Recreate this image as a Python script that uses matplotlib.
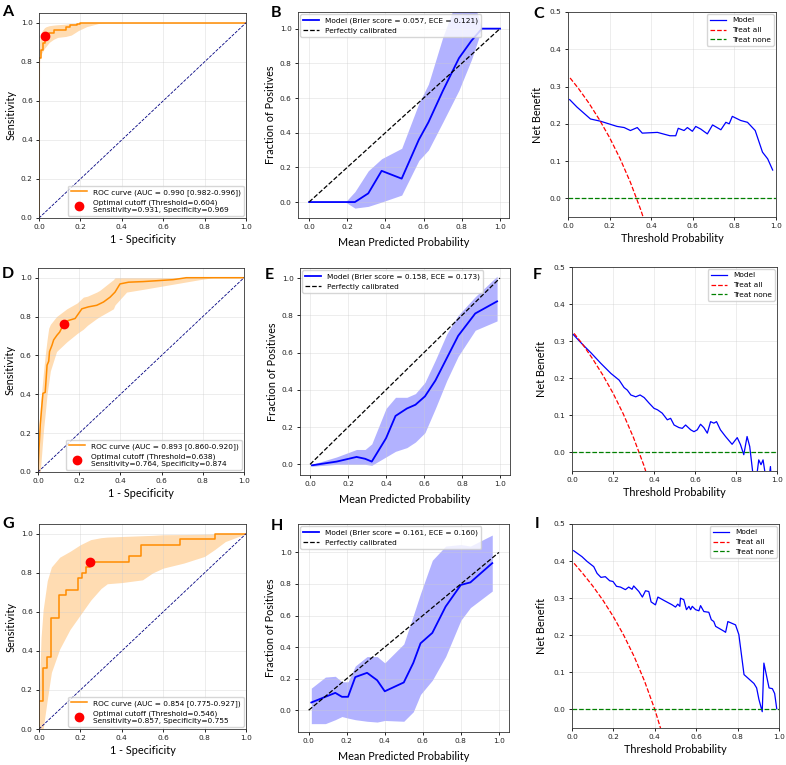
import matplotlib
matplotlib.use("Agg")
import matplotlib.pyplot as plt

W, H = 786, 765

# ---------------- ROC data ----------------
roc_a_fpr = [0, 0, 0.01, 0.01, 0.02, 0.02, 0.031, 0.031, 0.05, 0.05, 0.073, 0.073,
             0.13, 0.13, 0.15, 0.15, 0.185, 0.185, 0.197, 0.197, 0.253, 0.253, 1.0]
roc_a_tpr = [0, 0.82, 0.82, 0.86, 0.86, 0.895, 0.895, 0.931, 0.931, 0.946, 0.946, 0.962,
             0.962, 0.976, 0.976, 0.988, 0.988, 0.993, 0.993, 0.997, 0.997, 1.0, 1.0]
band_a_x = [0, 0.003, 0.006, 0.016, 0.027, 0.035, 0.05, 0.07, 0.09, 0.13, 0.156, 0.19, 0.2, 0.23, 0.29, 0.32, 1.0]
band_a_lo = [0.0, 0.80, 0.83, 0.85, 0.87, 0.88, 0.90, 0.915, 0.925, 0.93, 0.937, 0.96, 0.965, 0.98, 0.997, 1.0, 1.0]
band_a_hi = [0.86, 0.90, 0.93, 0.96, 0.975, 0.98, 0.985, 0.988, 0.99, 0.993, 0.996, 0.999, 1.0, 1.0, 1.0, 1.0, 1.0]

roc_d_fpr = [0, 0.005, 0.011, 0.019, 0.024, 0.035, 0.044, 0.052, 0.056, 0.068, 0.076, 0.092,
             0.105, 0.126, 0.148, 0.18, 0.213, 0.245, 0.285, 0.318, 0.35, 0.374, 0.398,
             0.44, 0.51, 0.656, 0.72, 1.0]
roc_d_tpr = [0, 0.123, 0.243, 0.345, 0.405, 0.41, 0.55, 0.57, 0.62, 0.653, 0.68, 0.704,
             0.72, 0.764, 0.78, 0.79, 0.84, 0.85, 0.858, 0.875, 0.90, 0.926, 0.968,
             0.977, 0.98, 0.99, 1.0, 1.0]
band_d_x = [0, 0.008, 0.011, 0.027, 0.035, 0.044, 0.052, 0.06, 0.09, 0.14, 0.19, 0.22, 0.24, 0.285,
            0.30, 0.35, 0.366, 0.374, 0.43, 0.51, 0.62, 0.785, 0.85, 1.0]
band_d_lo = [0, 0.0, 0.0, 0.22, 0.30, 0.40, 0.46, 0.52, 0.62, 0.67, 0.713, 0.735, 0.755, 0.79,
             0.80, 0.83, 0.84, 0.86, 0.926, 0.94, 0.96, 0.99, 1.0, 1.0]
band_d_hi = [0.10, 0.24, 0.33, 0.52, 0.60, 0.68, 0.74, 0.76, 0.80, 0.84, 0.87, 0.90, 0.905, 0.926,
             0.935, 0.977, 0.99, 1.0, 1.0, 1.0, 1.0, 1.0, 1.0, 1.0]

roc_g_fpr = [0, 0, 0.02, 0.02, 0.04, 0.04, 0.056, 0.056, 0.095, 0.095, 0.13, 0.13, 0.187, 0.187,
             0.206, 0.206, 0.226, 0.226, 0.245, 0.245, 0.435, 0.435, 0.492, 0.492, 0.68, 0.68,
             0.85, 0.85, 1.0]
roc_g_tpr = [0, 0.143, 0.143, 0.314, 0.314, 0.371, 0.371, 0.571, 0.571, 0.686, 0.686, 0.714,
             0.714, 0.771, 0.771, 0.8, 0.8, 0.829, 0.829, 0.857, 0.857, 0.886, 0.886, 0.943,
             0.943, 0.971, 0.971, 1.0, 1.0]
band_g_x = [0, 0.01, 0.02, 0.04, 0.06, 0.1, 0.15, 0.2, 0.25, 0.3, 0.33, 0.4, 0.5, 0.55, 0.6, 0.7,
            0.8, 0.85, 0.9, 1.0]
band_g_lo = [0, 0, 0, 0.15, 0.29, 0.41, 0.51, 0.585, 0.66, 0.72, 0.744, 0.75, 0.764, 0.80, 0.824,
             0.85, 0.884, 0.92, 0.96, 1.0]
band_g_hi = [0.14, 0.47, 0.61, 0.76, 0.83, 0.88, 0.91, 0.944, 0.97, 0.98, 0.983, 0.986, 0.99,
             0.992, 0.995, 0.996, 0.998, 0.999, 1.0, 1.0]

cut_a = (0.031, 0.931)
cut_d = (0.126, 0.764)
cut_g = (0.245, 0.857)

# ---------------- calibration data ----------------
cal_b_x = [0.0, 0.19, 0.24, 0.31, 0.38, 0.485, 0.575, 0.625, 0.70, 0.785, 0.85, 0.905, 0.95, 1.0]
cal_b_y = [0.0, 0.0, 0.0, 0.05, 0.18, 0.135, 0.36, 0.46, 0.64, 0.83, 0.93, 1.0, 1.0, 1.0]
cal_b_lo = [0.0, 0.0, -0.035, -0.025, 0.0, 0.04, 0.24, 0.30, 0.46, 0.645, 0.82, 1.0, 1.0, 1.0]
cal_b_hi = [0.0, 0.0, 0.06, 0.18, 0.25, 0.31, 0.57, 0.68, 0.95, 1.2, 1.2, 1.0, 1.0, 1.0]

cal_e_x = [0.01, 0.14, 0.245, 0.29, 0.325, 0.40, 0.45, 0.51, 0.555, 0.605, 0.66, 0.72, 0.78, 0.87, 0.985]
cal_e_y = [-0.005, 0.015, 0.04, 0.03, 0.015, 0.14, 0.26, 0.30, 0.32, 0.365, 0.45, 0.57, 0.69, 0.81, 0.875]
cal_e_lo = [-0.01, 0.0, 0.0, 0.0, -0.005, 0.04, 0.07, 0.09, 0.12, 0.17, 0.30, 0.45, 0.58, 0.72, 0.77]
cal_e_hi = [0.0, 0.04, 0.08, 0.08, 0.11, 0.30, 0.36, 0.36, 0.38, 0.44, 0.56, 0.70, 0.80, 0.90, 1.01]

cal_h_x = [0.014, 0.088, 0.14, 0.175, 0.207, 0.245, 0.307, 0.36, 0.40, 0.50, 0.55, 0.588, 0.65,
           0.72, 0.80, 0.85, 0.965]
cal_h_y = [0.049, 0.085, 0.11, 0.085, 0.085, 0.21, 0.237, 0.19, 0.12, 0.176, 0.30, 0.424, 0.49,
           0.657, 0.794, 0.81, 0.932]
cal_h_lo = [-0.085, -0.085, -0.06, -0.04, -0.05, -0.06, -0.07, -0.075, -0.065, -0.07, -0.01, 0.10,
            0.19, 0.34, 0.57, 0.65, 0.755]
cal_h_hi = [0.14, 0.21, 0.215, 0.18, 0.18, 0.28, 0.34, 0.34, 0.30, 0.42, 0.60, 0.74, 0.95, 1.04,
            1.05, 1.04, 1.11]

# ---------------- decision curve data ----------------
dca_c_t = [0.008, 0.043, 0.108, 0.156, 0.196, 0.236, 0.27, 0.3, 0.333, 0.357, 0.43, 0.49, 0.518,
           0.53, 0.558, 0.574, 0.598, 0.614, 0.638, 0.67, 0.695, 0.735, 0.759, 0.775, 0.79, 0.83,
           0.863, 0.9, 0.935, 0.96, 0.984]
dca_c_nb = [0.265, 0.245, 0.213, 0.207, 0.2, 0.193, 0.19, 0.182, 0.19, 0.175, 0.177, 0.168, 0.168,
            0.188, 0.182, 0.19, 0.18, 0.193, 0.186, 0.173, 0.197, 0.184, 0.204, 0.2, 0.22, 0.209,
            0.204, 0.182, 0.124, 0.106, 0.076]
dca_f_t = [0.006, 0.052, 0.092, 0.141, 0.19, 0.23, 0.254, 0.27, 0.287, 0.311, 0.332, 0.352, 0.376,
           0.4, 0.417, 0.44, 0.465, 0.481, 0.498, 0.522, 0.538, 0.554, 0.579, 0.595, 0.611, 0.627,
           0.643, 0.66, 0.676, 0.692, 0.705, 0.724, 0.749, 0.781, 0.806, 0.822, 0.838, 0.854, 0.867,
           0.883, 0.895, 0.911, 0.922, 0.932, 0.943, 0.955, 0.968, 0.975, 0.99]
dca_f_nb = [0.318, 0.291, 0.269, 0.24, 0.213, 0.195, 0.175, 0.168, 0.155, 0.15, 0.155, 0.148, 0.133,
            0.119, 0.115, 0.106, 0.088, 0.092, 0.074, 0.067, 0.065, 0.074, 0.061, 0.056, 0.061, 0.076,
            0.067, 0.052, 0.083, 0.079, 0.083, 0.061, 0.043, 0.022, 0.04, 0.021, -0.006, 0.043, 0.016,
            -0.06, -0.09, -0.02, -0.033, -0.02, -0.06, -0.10, -0.038, -0.10, -0.2]
dca_i_t = [0.008, 0.048, 0.073, 0.105, 0.121, 0.14, 0.161, 0.182, 0.198, 0.215, 0.234, 0.258, 0.274,
           0.29, 0.298, 0.323, 0.34, 0.355, 0.371, 0.382, 0.403, 0.415, 0.444, 0.484, 0.5, 0.511,
           0.521, 0.524, 0.54, 0.553, 0.565, 0.573, 0.581, 0.597, 0.613, 0.621, 0.637, 0.661, 0.673,
           0.685, 0.694, 0.734, 0.742, 0.753, 0.79, 0.806, 0.831, 0.855, 0.879, 0.892, 0.903, 0.919,
           0.927, 0.952, 0.968, 0.979, 0.989]
dca_i_nb = [0.428, 0.412, 0.399, 0.385, 0.367, 0.356, 0.358, 0.347, 0.345, 0.332, 0.33, 0.323, 0.33,
            0.324, 0.333, 0.318, 0.303, 0.32, 0.318, 0.29, 0.282, 0.303, 0.294, 0.282, 0.276, 0.284,
            0.278, 0.3, 0.296, 0.269, 0.278, 0.269, 0.278, 0.269, 0.266, 0.28, 0.264, 0.262, 0.242,
            0.237, 0.224, 0.211, 0.208, 0.237, 0.228, 0.202, 0.094, 0.082, 0.07, 0.058, 0.027, -0.006,
            0.125, 0.058, 0.056, 0.043, 0.002]

all_c_t = [0.01, 0.05, 0.1, 0.15, 0.2, 0.25, 0.3, 0.35, 0.4]
all_c_nb = [0.323, 0.295, 0.256, 0.212, 0.163, 0.107, 0.043, -0.031, -0.117]
all_f_t = [0.01, 0.05, 0.1, 0.15, 0.2, 0.25, 0.3, 0.35, 0.4]
all_f_nb = [0.321, 0.293, 0.253, 0.209, 0.16, 0.104, 0.04, -0.034, -0.12]
all_i_t = [0.01, 0.05, 0.1, 0.15, 0.2, 0.25, 0.3, 0.35, 0.4, 0.45]
all_i_nb = [0.394, 0.368, 0.333, 0.294, 0.25, 0.2, 0.143, 0.077, 0.0, -0.091]

TICK = 5.3
LAB = 7.8
LEG = 5.3
LABFONT = ["Lato", "DejaVu Sans"]


def px_axes(left, top, right, bottom):
    return [left / W, 1 - bottom / H, (right - left) / W, (bottom - top) / H]


def style(ax):
    ax.tick_params(labelsize=TICK, length=2.5, width=0.6, pad=2, labelcolor="#222222")
    ax.grid(True, color="#cccccc", alpha=0.5, lw=0.5)
    for s in ax.spines.values():
        s.set_linewidth(0.6)
        s.set_color("#333333")


def draw_roc(ax, fpr, tpr, bx, blo, bhi, cut, auc_txt, cut_txt):
    ax.fill_between(bx, blo, bhi, color="darkorange", alpha=0.3, lw=0)
    ax.plot(fpr, tpr, color="darkorange", lw=1.1, label=auc_txt)
    ax.plot([0, 1], [0, 1], color="navy", lw=0.6, ls="--")
    ax.plot([cut[0]], [cut[1]], "o", color="red", ms=6, label=cut_txt)
    ax.set_xlim(0, 1)
    ax.set_ylim(0, 1.05)
    ax.set_xlabel("1 - Specificity", fontsize=LAB, family=LABFONT, labelpad=3)
    ax.set_ylabel("Sensitivity", fontsize=LAB, family=LABFONT, labelpad=3)
    ax.legend(loc="lower right", fontsize=LEG, borderaxespad=0.3, handlelength=2.2)
    style(ax)


def draw_cal(ax, x, y, lo, hi, txt, xlim, ylim):
    ax.fill_between(x, lo, hi, color="blue", alpha=0.3, lw=0)
    ax.plot(x, y, color="blue", lw=1.3, label=txt)
    ax.plot([0, 1], [0, 1], "k--", lw=0.9, label="Perfectly calibrated")
    ax.set_xlim(*xlim)
    ax.set_ylim(*ylim)
    ax.set_xlabel("Mean Predicted Probability", fontsize=LAB, family=LABFONT, labelpad=5)
    ax.set_ylabel("Fraction of Positives", fontsize=LAB, family=LABFONT, labelpad=3)
    ax.legend(loc="upper left", fontsize=LEG, borderaxespad=0.3, handlelength=2.2)
    style(ax)


def draw_dca(ax, t, nb, ta, nba):
    ax.plot(t, nb, color="blue", lw=0.9, label="Model")
    ax.plot(ta, nba, color="red", ls="--", lw=0.9, label="Treat all")
    ax.plot([0, 1], [0, 0], color="green", ls="--", lw=0.9, label="Treat none")
    ax.set_xlim(0, 1)
    ax.set_ylim(-0.05, 0.5)
    ax.set_xlabel("Threshold Probability", fontsize=LAB, family=LABFONT, labelpad=3)
    ax.set_ylabel("Net Benefit", fontsize=LAB, family=LABFONT, labelpad=5)
    ax.legend(loc="upper right", fontsize=LEG, borderaxespad=0.3, handlelength=2.2)
    style(ax)


fig = plt.figure(figsize=(W / 100, H / 100), dpi=100)

ax_a = fig.add_axes(px_axes(39, 13, 246, 218))
draw_roc(ax_a, roc_a_fpr, roc_a_tpr, band_a_x, band_a_lo, band_a_hi, cut_a,
         "ROC curve (AUC = 0.990 [0.982-0.996])",
         "Optimal cutoff (Threshold=0.604)\nSensitivity=0.931, Specificity=0.969")
ax_d = fig.add_axes(px_axes(38, 268, 244, 472))
draw_roc(ax_d, roc_d_fpr, roc_d_tpr, band_d_x, band_d_lo, band_d_hi, cut_d,
         "ROC curve (AUC = 0.893 [0.860-0.920])",
         "Optimal cutoff (Threshold=0.638)\nSensitivity=0.764, Specificity=0.874")
ax_g = fig.add_axes(px_axes(39, 524, 246, 729))
draw_roc(ax_g, roc_g_fpr, roc_g_tpr, band_g_x, band_g_lo, band_g_hi, cut_g,
         "ROC curve (AUC = 0.854 [0.775-0.927])",
         "Optimal cutoff (Threshold=0.546)\nSensitivity=0.857, Specificity=0.755")

ax_b = fig.add_axes(px_axes(298, 12, 509, 218))
draw_cal(ax_b, cal_b_x, cal_b_y, cal_b_lo, cal_b_hi,
         "Model (Brier score = 0.057, ECE = 0.121)", (-0.058, 1.047), (-0.092, 1.096))
ax_e = fig.add_axes(px_axes(300, 268, 510, 475))
draw_cal(ax_e, cal_e_x, cal_e_y, cal_e_lo, cal_e_hi,
         "Model (Brier score = 0.158, ECE = 0.173)", (-0.053, 1.053), (-0.057, 1.054))
ax_h = fig.add_axes(px_axes(298, 524, 509, 732))
draw_cal(ax_h, cal_h_x, cal_h_y, cal_h_lo, cal_h_hi,
         "Model (Brier score = 0.161, ECE = 0.160)", (-0.056, 1.053), (-0.138, 1.18))

ax_c = fig.add_axes(px_axes(568, 12, 776, 217))
draw_dca(ax_c, dca_c_t, dca_c_nb, all_c_t, all_c_nb)
ax_f = fig.add_axes(px_axes(572, 267, 777, 471))
draw_dca(ax_f, dca_f_t, dca_f_nb, all_f_t, all_f_nb)
ax_i = fig.add_axes(px_axes(572, 524, 779, 728))
draw_dca(ax_i, dca_i_t, dca_i_nb, all_i_t, all_i_nb)

letters = [("A", 2, 5), ("B", 271, 6), ("C", 533, 7),
           ("D", 2, 267), ("E", 265, 268), ("F", 533, 268),
           ("G", 2, 517), ("H", 271, 519), ("I", 535, 517)]
for ch, x, y in letters:
    fig.text(x / W, 1 - y / H, ch, fontsize=11.5, fontweight="bold",
             family=LABFONT, va="top", ha="left")

fig.savefig("out.png", dpi=100)
